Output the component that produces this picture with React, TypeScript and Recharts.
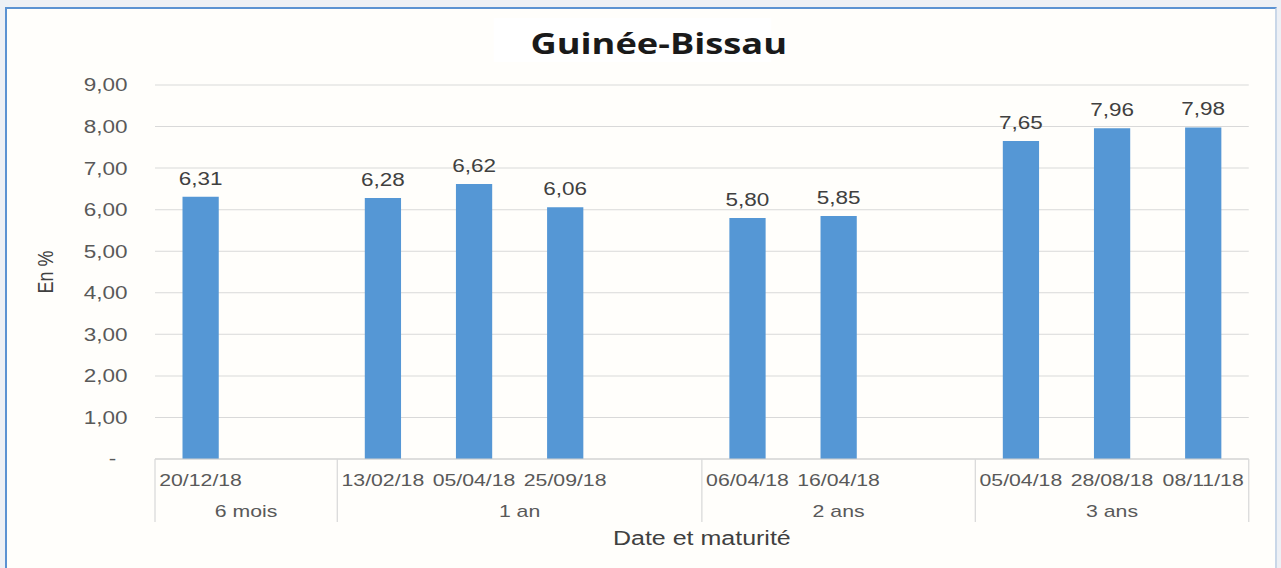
import React from 'react';
import { BarChart, Bar, XAxis, YAxis, CartesianGrid, LabelList } from 'recharts';

// ---- data ----
const dates = ['20/12/18', '', '13/02/18', '05/04/18', '25/09/18', '', '06/04/18', '16/04/18', '', '05/04/18', '28/08/18', '08/11/18'];
const maturities = ['6 mois', '6 mois', '1 an', '1 an', '1 an', '1 an', '2 ans', '2 ans', '2 ans', '3 ans', '3 ans', '3 ans'];
const rates: (number | null)[] = [6.31, null, 6.28, 6.62, 6.06, null, 5.8, 5.85, null, 7.65, 7.96, 7.98];
const yTicks = [0, 1, 2, 3, 4, 5, 6, 7, 8, 9];
const titleText = 'Guinée-Bissau';
const yTitle = 'En %';
const xTitle = 'Date et maturité';

const data = dates.map((d, i) => ({ date: d, maturity: maturities[i], rate: rates[i] }));

// ---- layout ----
const SX = 1.25; // the reference is horizontally stretched
const OUT_W = 1281;
const OUT_H = 568;
const W = 1025;
const H = 568;
const MARGIN = { top: 85, right: 26, bottom: 19, left: 0 };
const Y_W = 124;
const X_H = 90;
const SLOT = (W - MARGIN.left - MARGIN.right - Y_W) / dates.length;

const FONT = '"Liberation Sans", Arial, sans-serif';
const TICK_COLOR = '#595959';
const LABEL_COLOR = '#404040';
const GRID = '#d9d9d9';
const BAR = '#5597d5';

const fmt = (v: number) => v.toFixed(2).replace('.', ',');

const isGroupStart = (i: number) => i === 0 || maturities[i] !== maturities[i - 1];
const groupCount = (i: number) => {
  let n = 0;
  while (i + n < maturities.length && maturities[i + n] === maturities[i]) n++;
  return n;
};

const XTick = (props: any) => {
  const { x, y, index } = props;
  const half = SLOT / 2;
  const i = index as number;
  return (
    <g>
      <text x={x} y={y + 27} textAnchor="middle" fontSize={17} fill={TICK_COLOR} fontFamily={FONT}>
        {dates[i]}
      </text>
      {isGroupStart(i) && (
        <g>
          <line x1={x - half} x2={x - half} y1={y} y2={y + 63} stroke={GRID} strokeWidth={1} />
          <text x={x + (groupCount(i) - 1) * half} y={y + 58} textAnchor="middle" fontSize={17} fill={TICK_COLOR} fontFamily={FONT}>
            {maturities[i]}
          </text>
        </g>
      )}
      {i === dates.length - 1 && (
        <line x1={x + half} x2={x + half} y1={y} y2={y + 63} stroke={GRID} strokeWidth={1} />
      )}
    </g>
  );
};

const YTick = (props: any) => {
  const { x, y, payload } = props;
  const v = payload.value as number;
  return (
    <text x={v === 0 ? x - 9 : x} y={y} dy="0.36em" textAnchor="end" fontSize={18} fill={TICK_COLOR} fontFamily={FONT}>
      {v === 0 ? '-' : fmt(v)}
    </text>
  );
};

const YLabel = (props: any) => {
  const vb = props.viewBox || { x: 0, y: 0, width: 0, height: 0 };
  const cx = vb.x + 36;
  const cy = vb.y + vb.height / 2;
  return (
    <text x={cx} y={cy} transform={`rotate(-90 ${cx} ${cy})`} textAnchor="middle" dy="0.36em" fontSize={18} fill={LABEL_COLOR} fontFamily={FONT}>
      {yTitle}
    </text>
  );
};

const ValueLabel = (props: any) => {
  const { x, y, width, value } = props;
  if (value === null || value === undefined) return null;
  return (
    <text x={x + width / 2} y={y - 12} textAnchor="middle" fontSize={18} fill={LABEL_COLOR} fontFamily={FONT}>
      {fmt(Number(value))}
    </text>
  );
};

export default function App() {
  return (
    <div style={{ position: 'absolute', left: 0, top: 0, width: OUT_W, height: OUT_H, background: '#edf0f5', overflow: 'hidden' }}>
      <div
        style={{
          position: 'absolute',
          left: 5,
          top: 7,
          width: 1268,
          height: 600,
          borderLeft: '2px solid #5b92d2',
          borderTop: '2px solid #5b92d2',
          borderRight: '2px solid #c9d7e8',
          background: '#fffefb',
        }}
      />
      <div style={{ position: 'absolute', left: 0, top: 0, width: W, height: H, transform: `scaleX(${SX})`, transformOrigin: '0 0' }}>
        <div style={{ position: 'absolute', left: 395, top: 18, width: 222, height: 44, background: '#ffffff' }} />
        <div
          style={{
            position: 'absolute',
            left: 327,
            top: 28,
            width: 400,
            textAlign: 'center',
            fontFamily: '"Open Sans", "Noto Sans", sans-serif',
            fontWeight: 700,
            fontSize: 29,
            lineHeight: '30px',
            color: '#1a1a1a',
          }}
        >
          {titleText}
        </div>
        <div style={{ position: 'absolute', left: 0, top: 0 }}>
          <BarChart width={W} height={H} data={data} margin={MARGIN}>
            <CartesianGrid vertical={false} stroke={GRID} />
            <XAxis
              dataKey="date"
              height={X_H}
              interval={0}
              tickLine={false}
              tickSize={0}
              tickMargin={0}
              axisLine={{ stroke: '#d0d0d0' }}
              tick={<XTick />}
              label={{ value: xTitle, position: 'insideBottom', offset: 4, fontSize: 20, fill: LABEL_COLOR, fontFamily: FONT }}
            />
            <YAxis
              width={Y_W}
              domain={[0, 9]}
              ticks={yTicks}
              interval={0}
              axisLine={false}
              tickLine={false}
              tickSize={0}
              tickMargin={22}
              tick={<YTick />}
              label={YLabel}
            />
            <Bar dataKey="rate" fill={BAR} barSize={29} isAnimationActive={false}>
              <LabelList dataKey="rate" content={ValueLabel} />
            </Bar>
          </BarChart>
        </div>
      </div>
    </div>
  );
}
